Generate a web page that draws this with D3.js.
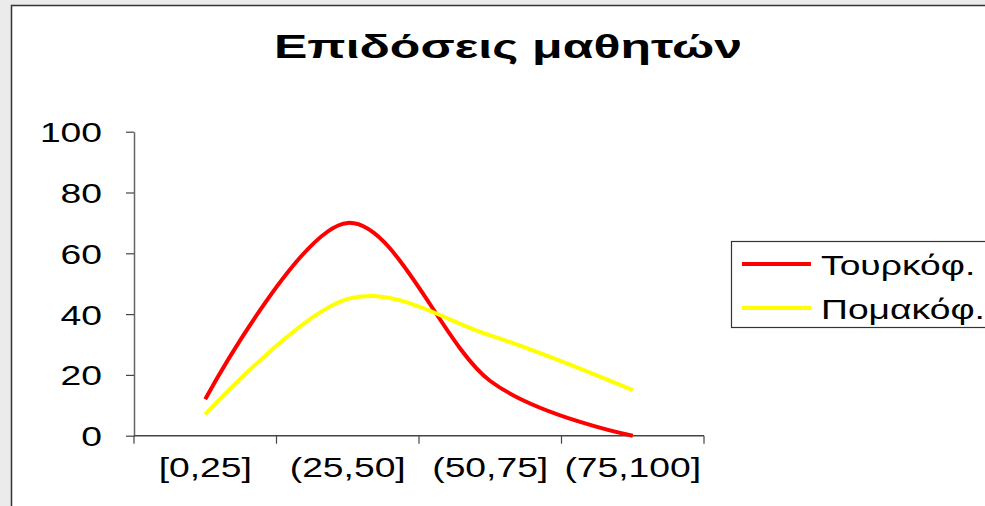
<!DOCTYPE html>
<html>
<head>
<meta charset="utf-8">
<script src="https://cdn.jsdelivr.net/npm/d3@7/dist/d3.min.js"></script>
<style>
  html, body { margin: 0; padding: 0; background: #ebebeb; }
  svg { display: block; }
  text { font-family: "Liberation Sans", Arial, sans-serif; fill: #000; }
</style>
</head>
<body>
<svg id="chart" width="985" height="506"></svg>
<script>
// Score bands and share of students per band, by first language
const categories = ["[0,25]", "(25,50]", "(50,75]", "(75,100]"];
const turkishValues = [12, 70, 18, 0];
const pomakValues = [7, 45, 33, 15];
const seriesNames = ["Τουρκόφ.", "Πομακόφ."];
const seriesColors = ["#ff0000", "#ffff00"];
const yTicks = [0, 20, 40, 60, 80, 100];
const titleText = "Επιδόσεις μαθητών";

const W = 985, H = 506;
const SX = 1.33; // horizontal stretch of the lettering

const svg = d3.select("#chart");

// chart area panel
svg.append("rect").attr("x", 0).attr("y", 0).attr("width", W).attr("height", H).attr("fill", "#ebebeb");
svg.append("rect")
  .attr("x", 11.5).attr("y", 5.5).attr("width", W + 20).attr("height", H + 20)
  .attr("fill", "#fff").attr("stroke", "#333").attr("stroke-width", 1.5);

function stretch(sel, factor) {
  sel.each(function () {
    const len = this.getComputedTextLength();
    d3.select(this).attr("textLength", len * factor).attr("lengthAdjust", "spacingAndGlyphs");
  });
}

// title
svg.append("text")
  .attr("x", 508).attr("y", 58)
  .attr("text-anchor", "middle")
  .attr("font-size", 34).attr("font-weight", "bold")
  .attr("textLength", 468).attr("lengthAdjust", "spacingAndGlyphs")
  .text(titleText);

const x = d3.scaleBand().domain(categories).range([134, 704]);
const y = d3.scaleLinear().domain([0, 100]).range([435.7, 131.7]);

// y axis
const yAxis = svg.append("g")
  .attr("transform", "translate(134,0)")
  .call(d3.axisLeft(y).tickValues(yTicks).tickSize(8).tickSizeOuter(0).tickPadding(24));
yAxis.select(".domain").attr("stroke", "#666").attr("stroke-width", 1.5);
yAxis.selectAll(".tick line").attr("stroke", "#444").attr("stroke-width", 1.2);
yAxis.selectAll(".tick text")
  .attr("font-size", 28).attr("font-family", "Liberation Sans, Arial, sans-serif").attr("fill", "#000")
  .attr("dy", "0.36em")
  .call(stretch, SX);

// x axis: baseline with ticks at band boundaries
const boundaries = categories.map(c => x(c)).concat([x.range()[1]]);
svg.append("line")
  .attr("x1", x.range()[0]).attr("x2", x.range()[1])
  .attr("y1", y(0)).attr("y2", y(0))
  .attr("stroke", "#444").attr("stroke-width", 1.5);
svg.append("g").selectAll("line").data(boundaries).join("line")
  .attr("x1", d => d).attr("x2", d => d)
  .attr("y1", y(0)).attr("y2", y(0) + 8)
  .attr("stroke", "#444").attr("stroke-width", 1.2);
svg.append("g").selectAll("text").data(categories).join("text")
  .attr("x", d => x(d) + x.bandwidth() / 2)
  .attr("y", 477)
  .attr("text-anchor", "middle")
  .attr("font-size", 28)
  .text(d => d)
  .call(stretch, SX);

// smoothed series lines
const line = d3.line()
  .x((d, i) => x(categories[i]) + x.bandwidth() / 2)
  .y(d => y(d))
  .curve(d3.curveCardinal.tension(0));

const series = [turkishValues, pomakValues];
svg.append("g").selectAll("path").data(series).join("path")
  .attr("d", d => line(d))
  .attr("fill", "none")
  .attr("stroke", (d, i) => seriesColors[i])
  .attr("stroke-width", 4)
  .attr("stroke-linejoin", "round");

// legend
const legend = svg.append("g");
legend.append("rect")
  .attr("x", 731.5).attr("y", 241.5).attr("width", 300).attr("height", 86)
  .attr("fill", "#fff").attr("stroke", "#333").attr("stroke-width", 1.2);
const items = legend.selectAll("g.item").data(seriesNames).join("g")
  .attr("class", "item")
  .attr("transform", (d, i) => `translate(0,${264 + i * 44})`);
items.append("line")
  .attr("x1", 742).attr("x2", 811).attr("y1", 0).attr("y2", 0)
  .attr("stroke", (d, i) => seriesColors[i]).attr("stroke-width", 4);
items.append("text")
  .attr("x", 821).attr("y", 11)
  .attr("font-size", 28)
  .text(d => d)
  .call(stretch, SX);
</script>
</body>
</html>
